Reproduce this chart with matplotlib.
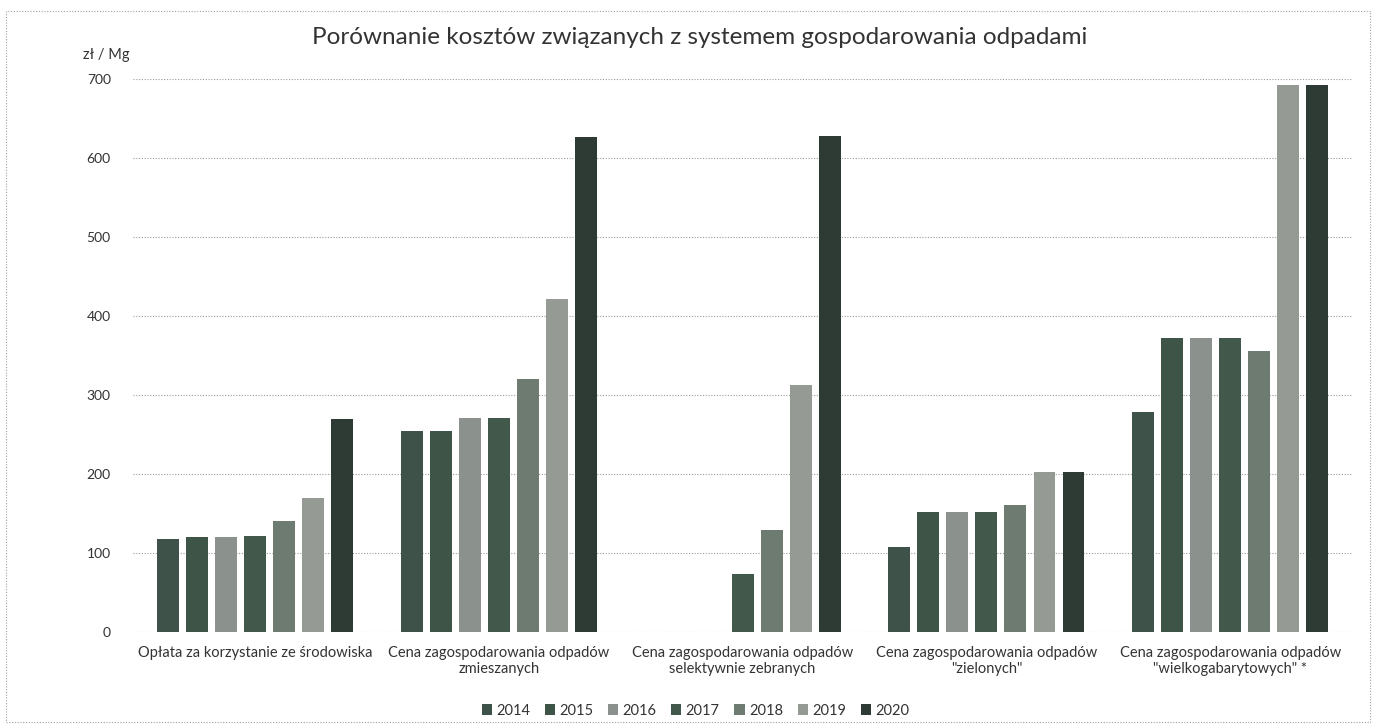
import numpy as np
import matplotlib
matplotlib.use("Agg")
import matplotlib.pyplot as plt
from matplotlib.patches import Rectangle

plt.rcParams['font.family'] = ['Lato', 'DejaVu Sans']

# dane (zł / Mg)
categories = [
    "Opłata za korzystanie ze środowiska",
    "Cena zagospodarowania odpadów\nzmieszanych",
    "Cena zagospodarowania odpadów\nselektywnie zebranych",
    "Cena zagospodarowania odpadów\n\"zielonych\"",
    "Cena zagospodarowania odpadów\n\"wielkogabarytowych\" *",
]
years = ["2014", "2015", "2016", "2017", "2018", "2019", "2020"]
v2014 = [118, 255, np.nan, 108, 278]
v2015 = [120, 255, np.nan, 152, 372]
v2016 = [120, 271, np.nan, 152, 372]
v2017 = [121, 271, 74, 152, 372]
v2018 = [140, 320, 129, 161, 356]
v2019 = [170, 421, 313, 203, 693]
v2020 = [270, 626, 628, 203, 693]
series = [v2014, v2015, v2016, v2017, v2018, v2019, v2020]
colors = ["#3f5249", "#3d5446", "#8b918c", "#41584b", "#6d7b71", "#959a95", "#2d3b34"]

fig = plt.figure(figsize=(13.77, 7.28), dpi=100)
ax = fig.add_axes([0.0966, 0.1319, 0.8854, 0.7596])

x = np.arange(len(categories))
step = 0.119
width = 0.09
for i, (vals, col, yr) in enumerate(zip(series, colors, years)):
    ax.bar(x + (i - 3) * step, vals, width, color=col, label=yr, zorder=3)

ax.set_xlim(-0.5, len(categories) - 0.5)
ax.set_ylim(0, 700)
ax.set_yticks(range(0, 701, 100))
ax.yaxis.grid(True, linestyle=(0, (1, 1.5)), color="#9a9a9a", linewidth=0.8, zorder=0)
ax.set_xticks(x)
ax.set_xticklabels(categories, fontsize=10.5, color="#333333")
ax.tick_params(axis='x', length=0, pad=10)
ax.tick_params(axis='y', length=0, pad=16, labelsize=10, labelcolor="#333333")
for s in ax.spines.values():
    s.set_visible(False)

fig.text(0.508, 0.948, "Porównanie kosztów związanych z systemem gospodarowania odpadami",
         ha='center', va='center', fontsize=17.5, color="#333333")
fig.text(0.060, 0.924, "zł / Mg", ha='left', va='center', fontsize=10.5, color="#333333")

fig.legend(loc='center', bbox_to_anchor=(0.505, 0.024), ncol=7, frameon=False,
           fontsize=10.5, handlelength=0.7, handleheight=0.7, handletextpad=0.3,
           columnspacing=1.0, labelcolor="#333333")

# ramka wykresu
fig.patches.append(Rectangle((0.004, 0.008), 0.991, 0.977, transform=fig.transFigure,
                             fill=False, edgecolor="#a0a0a0", linewidth=0.8,
                             linestyle=(0, (1, 1.5))))

fig.savefig("out.png", dpi=100)
